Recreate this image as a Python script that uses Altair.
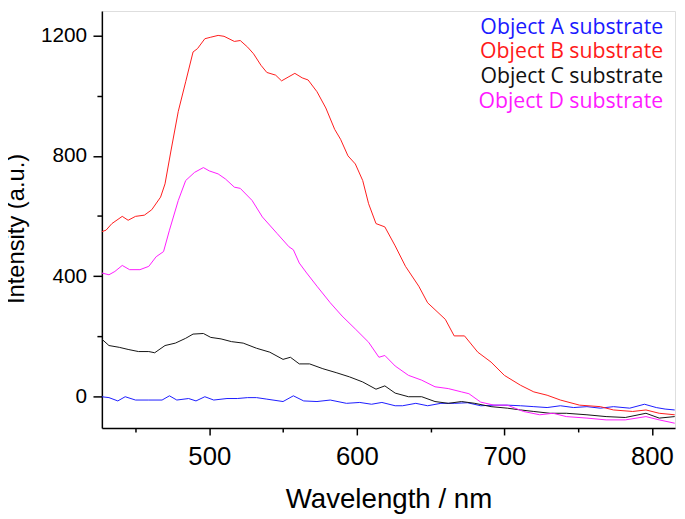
import altair as alt
import pandas as pd

# Series labels and colours
series_labels = ["Object A substrate", "Object B substrate", "Object C substrate", "Object D substrate"]
series_colors = ["#1a1aff", "#ff1a1a", "#111111", "#ff1aff"]

# Object A (blue)
a_nm = [427, 432, 438, 443, 450, 459, 468, 473, 478, 486, 491, 497, 503, 512, 519, 526, 532, 539, 550, 557,
        564, 573, 582, 593, 602, 610, 617, 626, 631, 640, 648, 657, 666, 675, 684, 693, 702, 711, 720, 729,
        738, 747, 756, 765, 774, 785, 795, 803, 809, 815.5]
a_val = [0, -3, -14, 0, -11, -11, -11, 3, -11, -6, -14, 0, -11, -6, -6, -3, -3, -8, -16, 3,
         -14, -16, -11, -22, -19, -25, -19, -30, -30, -22, -30, -22, -22, -20, -30, -28, -28, -30, -33, -36,
         -30, -36, -33, -38, -33, -38, -25, -36, -41, -44]

# Object B (red)
b_nm = [427, 430, 434, 441, 445, 450, 456, 461, 467, 470, 474, 479, 484, 489, 492, 497, 501, 506, 510, 517,
        521, 526, 530, 535, 539, 545, 549, 554, 558, 563, 567, 573, 579, 585, 589, 594, 599, 604, 608, 613,
        619, 626, 633, 642, 648, 660, 666, 673, 682, 691, 700, 711, 720, 729, 738, 751, 765, 774, 787, 796,
        805, 815.5]
b_val = [548, 553, 575, 599, 586, 599, 603, 621, 663, 707, 816, 948, 1046, 1145, 1156, 1189, 1194, 1200, 1197, 1180,
         1183, 1161, 1139, 1101, 1077, 1068, 1049, 1063, 1074, 1059, 1052, 1013, 959, 888, 855, 800, 773, 718, 641, 575,
         564, 501, 433, 367, 312, 257, 202, 202, 148, 115, 71, 38, 16, 5, -11, -28, -33, -44, -49, -44,
         -55, -60]

# Object C (black)
c_nm = [427, 432, 439, 445, 452, 459, 463, 470, 477, 484, 489, 496, 501, 508, 515, 523, 532, 541, 550, 555,
        561, 568, 577, 586, 595, 604, 613, 619, 626, 635, 644, 653, 662, 671, 680, 691, 702, 711, 720, 731,
        742, 756, 769, 782, 796, 805, 815.5]
c_val = [192, 170, 164, 157, 150, 150, 146, 170, 178, 194, 208, 210, 197, 192, 183, 178, 161, 148, 124, 131,
         109, 109, 93, 80, 66, 49, 25, 36, 12, 0, 0, -16, -22, -16, -22, -33, -38, -44, -49, -55,
         -55, -60, -66, -69, -55, -71, -66]

# Object D (magenta)
d_nm = [427, 432, 436, 441, 446, 453, 459, 464, 469, 473, 479, 484, 490, 496, 500, 506, 511, 517, 521, 529,
        536, 546, 554, 557, 561, 566, 573, 582, 590, 599, 608, 615, 619, 626, 635, 644, 653, 662, 671, 676,
        684, 693, 702, 713, 724, 733, 742, 756, 769, 782, 796, 805, 815.5]
d_val = [411, 405, 416, 436, 422, 422, 433, 465, 482, 553, 652, 718, 745, 761, 750, 740, 723, 696, 692, 652,
         597, 542, 498, 488, 444, 411, 367, 312, 268, 225, 181, 131, 137, 102, 71, 55, 33, 27, 16, 10,
         -18, -28, -28, -49, -60, -55, -66, -71, -77, -77, -66, -77, -88]

x_major = [500, 600, 700, 800]
x_minor = [450, 550, 650, 750]
y_major = [0, 400, 800, 1200]
y_minor = [200, 600, 1000]

frames = []
for lab, xs, ys in zip(series_labels, [a_nm, b_nm, c_nm, d_nm], [a_val, b_val, c_val, d_val]):
    frames.append(pd.DataFrame({"series": lab, "nm": xs, "val": ys, "order": range(len(xs))}))
df = pd.concat(frames, ignore_index=True)

legend_df = pd.DataFrame({"series": series_labels, "pos": list(range(len(series_labels)))})

FONT = "Liberation Sans"
x_dom = [427.2, 815.7]
y_dom = [-104, 1281]

xscale = alt.Scale(domain=x_dom, nice=False, zero=False)
color_scale = alt.Scale(domain=series_labels, range=series_colors)

lines = alt.Chart(df).mark_line(strokeWidth=1, clip=True).encode(
    x=alt.X("nm:Q", scale=xscale, axis=alt.Axis(
        values=x_major, orient="bottom", tickSize=7, tickWidth=1.5, tickColor="black",
        domainColor="black", domainWidth=1.5, grid=False,
        labelFont=FONT, labelFontSize=26, labelColor="black", labelPadding=9, labelFlush=False,
        title="Wavelength / nm", titleFont=FONT, titleFontSize=28, titleFontWeight="normal",
        titleColor="black", titleX=290, titleY=80, titleBaseline="alphabetic", titleAlign="center")),
    y=alt.Y("val:Q", scale=alt.Scale(domain=y_dom, nice=False, zero=False), axis=alt.Axis(
        values=y_major, format="d", orient="left", tickSize=9, tickWidth=1.5, tickColor="black",
        domainColor="black", domainWidth=1.5, grid=False,
        labelFont=FONT, labelFontSize=21, labelColor="black", labelPadding=6.5, labelFlush=False,
        title="Intensity (a.u.)", titleFont=FONT, titleFontSize=24, titleFontWeight="normal",
        titleColor="black", titleX=-79, titleY=220, titleAngle=270, titleBaseline="alphabetic",
        titleAlign="center")),
    color=alt.Color("series:N", scale=color_scale, legend=None),
    detail="series:N",
    order="order:Q",
)

minor = alt.Chart(df).mark_line(opacity=0).encode(
    x=alt.X("nm:Q", scale=xscale, axis=alt.Axis(
        values=x_minor, orient="bottom", tickSize=4, tickWidth=1.5, tickColor="black",
        domain=False, labels=False, grid=False, title=None)),
    y=alt.Y("val:Q", scale=alt.Scale(domain=y_dom, nice=False, zero=False), axis=alt.Axis(
        values=y_minor, orient="left", tickSize=5, tickWidth=1.5, tickColor="black",
        domain=False, labels=False, grid=False, title=None)),
    detail="series:N",
)

legend_text = alt.Chart(legend_df).mark_text(
    align="right", baseline="alphabetic", font="Open Sans", fontSize=21.5
).encode(
    x=alt.value(568),
    y=alt.Y("pos:Q", scale=alt.Scale(domain=[0, 3], range=[23, 98], nice=False, zero=False), axis=None),
    text="series:N",
    color=alt.Color("series:N", scale=color_scale, legend=None),
)

chart = alt.layer(lines, minor, legend_text).resolve_scale(
    y="independent"
).resolve_axis(
    x="independent", y="independent"
).properties(
    width=580, height=422,
    autosize=alt.AutoSizeParams(type="none"),
    padding={"left": 95, "top": 0, "right": 2, "bottom": 89},
).configure_view(
    stroke="black", strokeWidth=1.5
).configure(background="white")

chart.save("out.html", embed_options={"renderer": "svg", "actions": False})
